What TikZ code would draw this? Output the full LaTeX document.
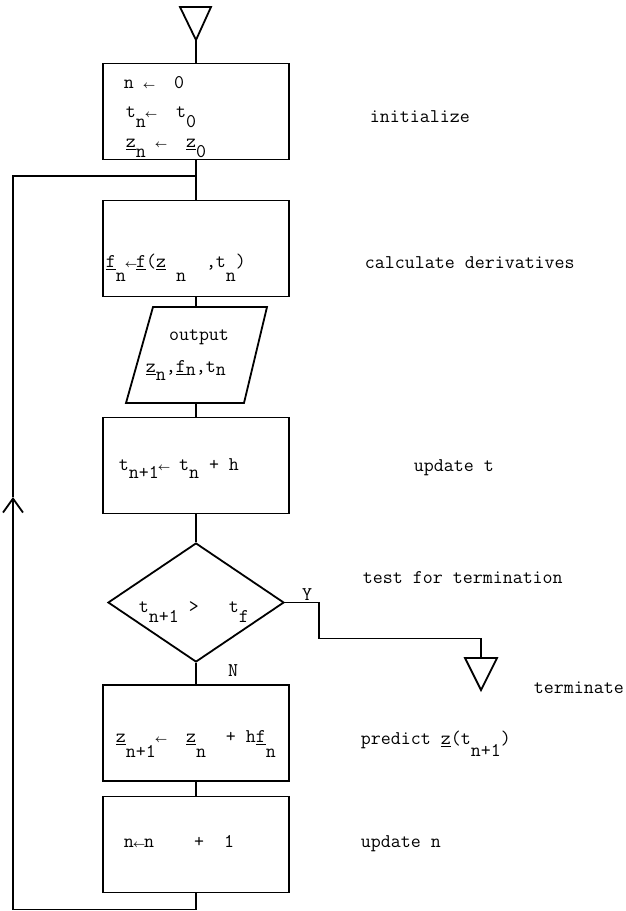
\documentclass[tikz,border=0pt]{standalone}
\usepackage{amsmath}
\usepackage{fontspec}
\usepackage{graphicx}
\usetikzlibrary{shapes.geometric,arrows.meta}
\newcommand{\dn}[2][12pt]{\raisebox{-#1}{#2}}
\newcommand{\la}{\makebox[0.525em]{\scalebox{0.52}{$\boldsymbol{\leftarrow}$}}}
\tikzset{proc/.style={draw, minimum width=186pt, minimum height=96pt, inner sep=0pt},
  txt/.style={font=\ttfamily\fontsize{19.4}{22}\selectfont, inner sep=0pt, anchor=base west}}

\begin{document}
\begin{tikzpicture}[x=1pt, y=-1pt, line width=1.8pt]
  \useasboundingbox (0,0) rectangle (625,911);
  % flow chart blocks
  \draw (180,7) -- (211,7) -- (196,40) -- cycle;  \coordinate (start) at (196,40);
  \node[proc] (init) at (196,111.5) {};
  \node[proc] (calc) at (196,248.5) {};
  \draw (126,403) -- (153,307) -- (267,307) -- (244,403) -- cycle;
  \coordinate (out-n) at (196,307);  \coordinate (out-s) at (196,403);
  \node[proc] (updt) at (196,465.5) {};
  \node[draw, diamond, minimum width=176pt, minimum height=119pt, inner sep=0pt] (test) at (196,602.5) {};
  \node[proc] (pred) at (196,733) {};
  \node[proc] (updn) at (196,844.5) {};
  \draw (465,658) -- (497,658) -- (481,690) -- cycle;  \coordinate (stop) at (481,658);

  % texts in the blocks
  \node[txt] (init-a) at (123,88) {n~\la~~0};
  \node[txt] (init-b) at (125,117) {t\dn[10pt]{n}\la~~t\dn[10pt]{0}};
  \node[txt] (init-c) at (125,147) {\underline{z}\dn[10pt]{n}~\la~~\underline{z}\dn[10pt]{0}};
  \node[txt] (calc-a) at (105,267) {\underline{f}\dn[14pt]{n}\la\underline{f}(\underline{z}~\dn[14pt]{n}~~,t\dn[14pt]{n})};
  \node[txt, anchor=base] (out-a) at (199,340) {output};
  \node[txt] (out-b) at (145,372) {\underline{z}\dn[8pt]{n},\underline{f}\dn[3pt]{n},t\dn[3pt]{n}};
  \node[txt] (updt-a) at (118,470) {t\dn[8pt]{n+1}\la~t\dn[8pt]{n}~+~h};
  \node[txt] (test-a) at (138,612) {t\dn[10pt]{n+1}~>~~~t\dn[10pt]{f}};
  \node[txt] (pred-a) at (115,742) {\underline{z}\dn[15pt]{n+1}\la~~\underline{z}\dn[15pt]{n}~~+~h\underline{f}\dn[15pt]{n}};
  \node[txt] (updn-a) at (123,847) {n\la n~~~~+~~1};

  % comments on the right
  \node[txt] (c-init) at (369,122) {initialize};
  \node[txt] (c-calc) at (364,268) {calculate derivatives};
  \node[txt] (c-updt) at (413,471) {update t};
  \node[txt] (c-test) at (362,583) {test for termination};
  \node[txt] (c-stop) at (533,693) {terminate};
  \node[txt] (c-pred) at (360,744) {predict \underline{z}(t\dn[12pt]{n+1})};
  \node[txt] (c-updn) at (360,847) {update n};

  % connectors
  \draw (start) -- (init);
  \draw (init) -- (calc);
  \draw (calc) -- (out-n);
  \draw (out-s) -- (updt);
  \draw (updt) -- (test);
  \draw (test) -- (pred);
  \draw (pred) -- (updn);
  \draw (test.east) -- ++(34,0) -- ++(0,36) -| (stop);
  \node[txt, anchor=base] (yes) at (307,600) {Y};
  \node[txt, anchor=base] (no) at (233,676) {N};

  % loop back
  \coordinate (join) at (196,176);  \coordinate (mid) at (13,497);
  \draw[-{Straight Barb[length=14pt,width=20pt]}] (updn.south) -- ++(0,16) -| (mid);
  \draw (mid) -- (13,176) -- (join);
\end{tikzpicture}
\end{document}
